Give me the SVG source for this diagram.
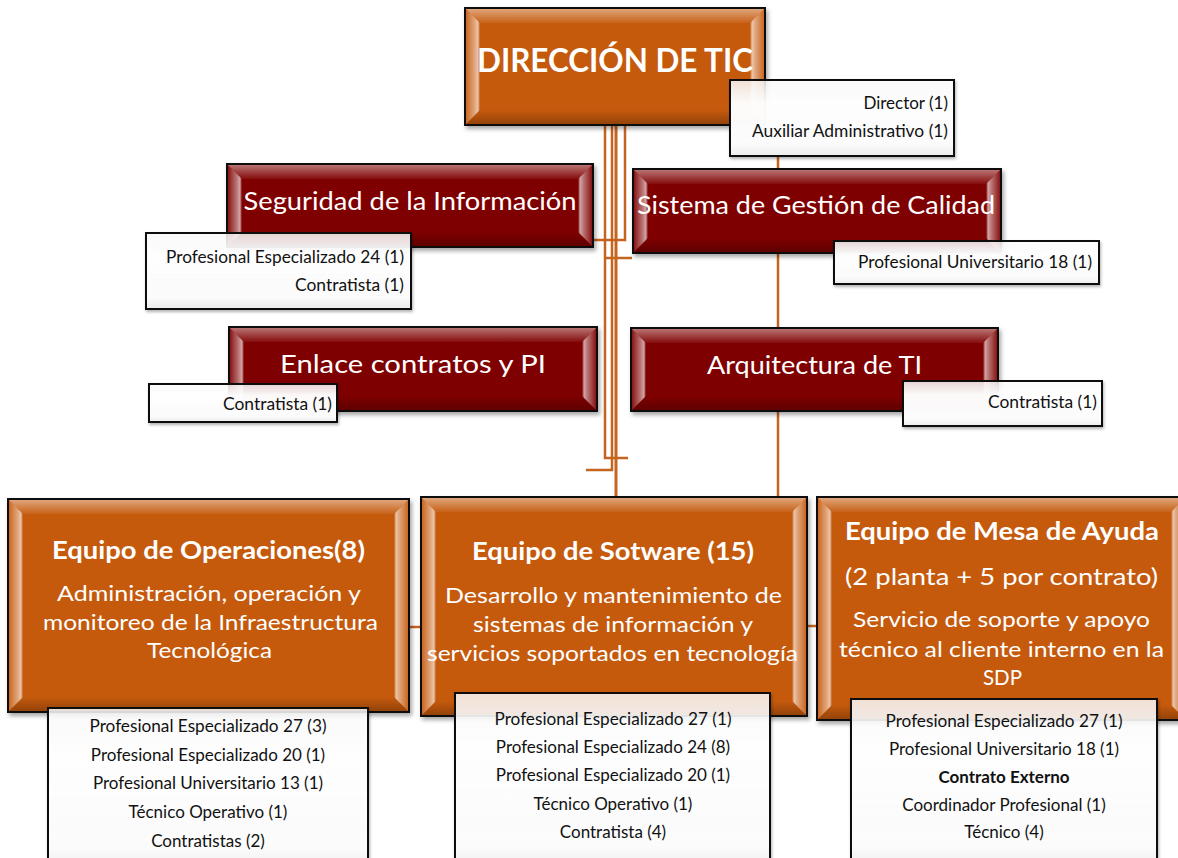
<svg xmlns="http://www.w3.org/2000/svg" width="1178" height="858" viewBox="0 0 1178 858">
<defs>
<style>
text{font-family:Lato,"Liberation Sans",sans-serif}
.w{fill:#fff}
.b{font-weight:bold}
.m{text-anchor:middle}
.e{text-anchor:end}
.lbl{fill:#111;font-size:17px}
.or{fill:#C55A11;stroke:#111;stroke-width:2;filter:url(#sh)}
.mr{fill:#7F0000;stroke:#111;stroke-width:2;filter:url(#sh)}
.bl{fill:url(#bevL)}
.br{fill:url(#bevR)}
.bt{fill:url(#bevT)}
.bb{fill:url(#bevB)}
.lb{fill:url(#lblg);stroke:#111;stroke-width:2;filter:url(#sh2)}
.cn{fill:none;stroke:#C5641F;stroke-width:2.5}
</style>
<filter id="sh" x="-5%" y="-5%" width="115%" height="125%"><feDropShadow dx="2" dy="3" stdDeviation="2" flood-opacity="0.35"/></filter>
<filter id="sh2" x="-5%" y="-5%" width="115%" height="125%"><feDropShadow dx="1" dy="2" stdDeviation="1.5" flood-opacity="0.3"/></filter>
<linearGradient id="bevL" x1="0" y1="0" x2="1" y2="0"><stop offset="0" stop-color="#fff" stop-opacity="0.08"/><stop offset="0.6" stop-color="#fff" stop-opacity="0.45"/><stop offset="0.85" stop-color="#fff" stop-opacity="0.65"/><stop offset="1" stop-color="#fff" stop-opacity="0"/></linearGradient>
<linearGradient id="bevR" x1="1" y1="0" x2="0" y2="0"><stop offset="0" stop-color="#fff" stop-opacity="0.08"/><stop offset="0.6" stop-color="#fff" stop-opacity="0.45"/><stop offset="0.85" stop-color="#fff" stop-opacity="0.65"/><stop offset="1" stop-color="#fff" stop-opacity="0"/></linearGradient>
<linearGradient id="bevT" x1="0" y1="0" x2="0" y2="1"><stop offset="0" stop-color="#fff" stop-opacity="0.45"/><stop offset="1" stop-color="#fff" stop-opacity="0.05"/></linearGradient>
<linearGradient id="bevB" x1="0" y1="0" x2="0" y2="1"><stop offset="0" stop-color="#000" stop-opacity="0"/><stop offset="1" stop-color="#000" stop-opacity="0.25"/></linearGradient>
<linearGradient id="lblg" x1="0" y1="0" x2="0" y2="1"><stop offset="0" stop-color="#fff" stop-opacity="0.8"/><stop offset="0.3" stop-color="#fff" stop-opacity="0.97"/><stop offset="0.85" stop-color="#fbfbfb"/><stop offset="1" stop-color="#ececec"/></linearGradient>
</defs>
<rect width="1178" height="858" fill="#fff"/>

<g id="connectors">
<path class="cn" d="M605,124 V458 H628"/>
<path class="cn" d="M612,124 V470 H586"/>
<path class="cn" d="M616,124 V497" style="stroke-width:3"/>
<path class="cn" d="M625,124 V240 H593"/>
<path class="cn" d="M605,258 H632"/>
<path class="cn" d="M778,140 V497"/>
<path class="cn" d="M409,627 H421"/>
<path class="cn" d="M807,626 H817"/>
</g>

<g id="direccion">
<rect class="or" x="465" y="8" width="300" height="117"/>
<polygon class="bl" points="466,9 480,23 480,110 466,124"/>
<polygon class="br" points="764,9 750,23 750,110 764,124"/>
<polygon class="bt" points="466,9 764,9 750,23 480,23"/>
<polygon class="bb" points="466,124 764,124 750,110 480,110"/>
<text class="w b m" x="615" y="72" font-size="32" textLength="276" lengthAdjust="spacingAndGlyphs">DIRECCIÓN DE TIC</text>
<rect class="lb" x="730" y="80" width="224" height="76"/>
<text class="lbl e" x="948" y="109">Director (1)</text>
<text class="lbl e" x="948" y="137" textLength="196" lengthAdjust="spacingAndGlyphs">Auxiliar Administrativo (1)</text>
</g>

<g id="seguridad">
<rect class="mr" x="227" y="164" width="366" height="83"/>
<polygon class="bl" points="228,165 242,179 242,232 228,246"/>
<polygon class="br" points="592,165 578,179 578,232 592,246"/>
<polygon class="bt" points="228,165 592,165 578,179 242,179"/>
<polygon class="bb" points="228,246 592,246 578,232 242,232"/>
<text class="w m" x="410" y="210" font-size="25" textLength="333" lengthAdjust="spacingAndGlyphs">Seguridad de la Información</text>
<rect class="lb" x="146" y="233" width="265" height="76"/>
<text class="lbl e" x="404" y="263" textLength="238" lengthAdjust="spacingAndGlyphs">Profesional Especializado 24 (1)</text>
<text class="lbl e" x="404" y="291" textLength="109" lengthAdjust="spacingAndGlyphs">Contratista (1)</text>
</g>

<g id="calidad">
<rect class="mr" x="633" y="169" width="368" height="84"/>
<polygon class="bl" points="634,170 648,184 648,238 634,252"/>
<polygon class="br" points="1000,170 986,184 986,238 1000,252"/>
<polygon class="bt" points="634,170 1000,170 986,184 648,184"/>
<polygon class="bb" points="634,252 1000,252 986,238 648,238"/>
<text class="w m" x="816" y="214" font-size="25" textLength="358" lengthAdjust="spacingAndGlyphs">Sistema de Gestión de Calidad</text>
<rect class="lb" x="834" y="241" width="265" height="43"/>
<text class="lbl e" x="1092" y="268" textLength="234" lengthAdjust="spacingAndGlyphs">Profesional Universitario 18 (1)</text>
</g>

<g id="enlace">
<rect class="mr" x="229" y="327" width="368" height="84"/>
<polygon class="bl" points="230,328 244,342 244,396 230,410"/>
<polygon class="br" points="596,328 582,342 582,396 596,410"/>
<polygon class="bt" points="230,328 596,328 582,342 244,342"/>
<polygon class="bb" points="230,410 596,410 582,396 244,396"/>
<text class="w m" x="413" y="373" font-size="25" textLength="266" lengthAdjust="spacingAndGlyphs">Enlace contratos y PI</text>
<rect class="lb" x="149" y="384" width="188" height="38"/>
<text class="lbl e" x="332" y="410" textLength="109" lengthAdjust="spacingAndGlyphs">Contratista (1)</text>
</g>

<g id="arquitectura">
<rect class="mr" x="631" y="328" width="367" height="83"/>
<polygon class="bl" points="632,329 646,343 646,396 632,410"/>
<polygon class="br" points="997,329 983,343 983,396 997,410"/>
<polygon class="bt" points="632,329 997,329 983,343 646,343"/>
<polygon class="bb" points="632,410 997,410 983,396 646,396"/>
<text class="w m" x="814.5" y="374" font-size="25" textLength="215" lengthAdjust="spacingAndGlyphs">Arquitectura de TI</text>
<rect class="lb" x="903" y="381" width="199" height="45"/>
<text class="lbl e" x="1097" y="408" textLength="109" lengthAdjust="spacingAndGlyphs">Contratista (1)</text>
</g>

<g id="operaciones">
<rect class="or" x="8" y="499" width="401" height="213"/>
<polygon class="bl" points="9,500 23,514 23,697 9,711"/>
<polygon class="br" points="408,500 394,514 394,697 408,711"/>
<polygon class="bt" points="9,500 408,500 394,514 23,514"/>
<polygon class="bb" points="9,711 408,711 394,697 23,697"/>
<text class="w b m" x="208.5" y="559" font-size="24" textLength="313" lengthAdjust="spacingAndGlyphs">Equipo de Operaciones(8)</text>
<text class="w m" x="209" y="601" font-size="22" textLength="304" lengthAdjust="spacingAndGlyphs">Administración, operación y</text>
<text class="w m" x="210.5" y="630" font-size="22" textLength="335" lengthAdjust="spacingAndGlyphs">monitoreo de la Infraestructura</text>
<text class="w m" x="209.5" y="658" font-size="22" textLength="125" lengthAdjust="spacingAndGlyphs">Tecnológica</text>
<rect class="lb" x="48" y="708" width="320" height="165"/>
<text class="lbl m" x="208" y="732" textLength="237" lengthAdjust="spacingAndGlyphs">Profesional Especializado 27 (3)</text>
<text class="lbl m" x="208" y="761">Profesional Especializado 20 (1)</text>
<text class="lbl m" x="208" y="789">Profesional Universitario 13 (1)</text>
<text class="lbl m" x="208" y="818">Técnico Operativo (1)</text>
<text class="lbl m" x="208" y="847">Contratistas (2)</text>
</g>

<g id="software">
<rect class="or" x="421" y="497" width="386" height="219"/>
<polygon class="bl" points="422,498 436,512 436,701 422,715"/>
<polygon class="br" points="806,498 792,512 792,701 806,715"/>
<polygon class="bt" points="422,498 806,498 792,512 436,512"/>
<polygon class="bb" points="422,715 806,715 792,701 436,701"/>
<text class="w b m" x="613" y="560" font-size="24" textLength="282" lengthAdjust="spacingAndGlyphs">Equipo de Sotware (15)</text>
<text class="w m" x="613.5" y="603" font-size="22" textLength="337" lengthAdjust="spacingAndGlyphs">Desarrollo y mantenimiento de</text>
<text class="w m" x="613" y="632" font-size="22" textLength="280" lengthAdjust="spacingAndGlyphs">sistemas de información y</text>
<text class="w m" x="612.5" y="661" font-size="22" textLength="371" lengthAdjust="spacingAndGlyphs">servicios soportados en tecnología</text>
<rect class="lb" x="455" y="693" width="315" height="180"/>
<text class="lbl m" x="613" y="725" textLength="237" lengthAdjust="spacingAndGlyphs">Profesional Especializado 27 (1)</text>
<text class="lbl m" x="613" y="753">Profesional Especializado 24 (8)</text>
<text class="lbl m" x="613" y="781">Profesional Especializado 20 (1)</text>
<text class="lbl m" x="613" y="810">Técnico Operativo (1)</text>
<text class="lbl m" x="613" y="838">Contratista (4)</text>
</g>

<g id="mesa">
<rect class="or" x="817" y="497" width="369" height="223"/>
<polygon class="bl" points="818,498 832,512 832,705 818,719"/>
<polygon class="br" points="1185,498 1171,512 1171,705 1185,719"/>
<polygon class="bt" points="818,498 1185,498 1171,512 832,512"/>
<polygon class="bb" points="818,719 1185,719 1171,705 832,705"/>
<text class="w b m" x="1002" y="540" font-size="24" textLength="314" lengthAdjust="spacingAndGlyphs">Equipo de Mesa de Ayuda</text>
<text class="w m" x="1001.5" y="585" font-size="24" textLength="313" lengthAdjust="spacingAndGlyphs">(2 planta + 5 por contrato)</text>
<text class="w m" x="1001.5" y="627" font-size="22" textLength="297" lengthAdjust="spacingAndGlyphs">Servicio de soporte y apoyo</text>
<text class="w m" x="1001.5" y="657" font-size="22" textLength="325" lengthAdjust="spacingAndGlyphs">técnico al cliente interno en la</text>
<text class="w m" x="1002.5" y="685" font-size="22" textLength="39" lengthAdjust="spacingAndGlyphs">SDP</text>
<rect class="lb" x="851" y="699" width="306" height="174"/>
<text class="lbl m" x="1004" y="727" textLength="237" lengthAdjust="spacingAndGlyphs">Profesional Especializado 27 (1)</text>
<text class="lbl m" x="1004" y="755">Profesional Universitario 18 (1)</text>
<text class="lbl m b" x="1004" y="783">Contrato Externo</text>
<text class="lbl m" x="1004" y="811">Coordinador Profesional (1)</text>
<text class="lbl m" x="1004" y="838">Técnico (4)</text>
</g>
</svg>
